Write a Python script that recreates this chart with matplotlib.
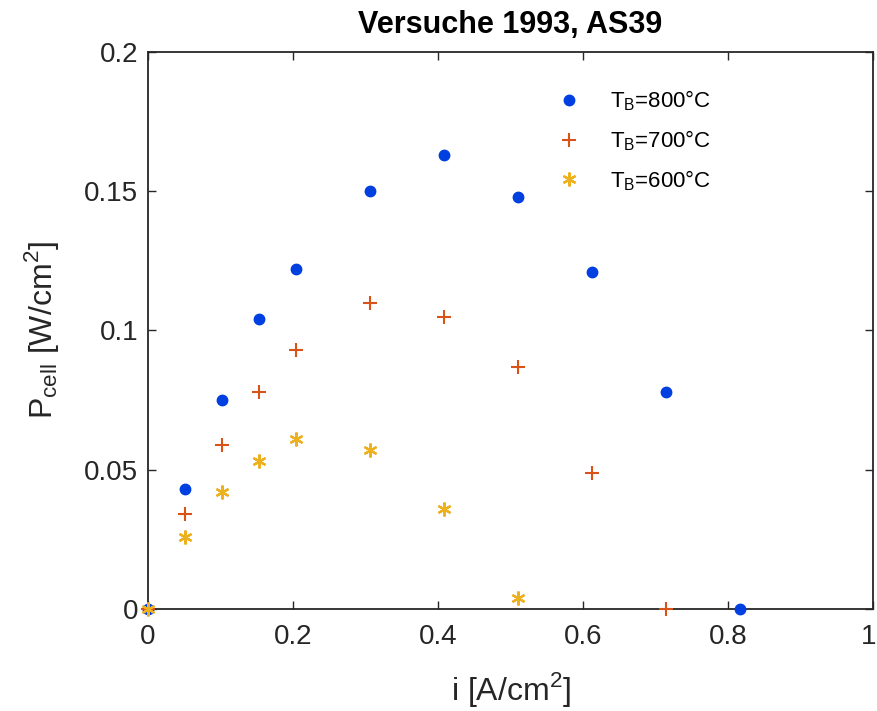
import matplotlib
matplotlib.use("Agg")
import matplotlib.pyplot as plt
from matplotlib.transforms import ScaledTranslation

i_800 = [0.0, 0.051, 0.102, 0.153, 0.204, 0.306, 0.408, 0.510, 0.612, 0.714, 0.816]
p_800 = [0.0, 0.043, 0.075, 0.104, 0.122, 0.150, 0.163, 0.148, 0.121, 0.078, 0.0]
i_700 = [0.0, 0.051, 0.102, 0.153, 0.204, 0.306, 0.408, 0.510, 0.612, 0.714]
p_700 = [0.0, 0.034, 0.059, 0.078, 0.093, 0.110, 0.105, 0.087, 0.049, 0.0]
i_600 = [0.0, 0.051, 0.102, 0.153, 0.204, 0.306, 0.408, 0.510]
p_600 = [0.0, 0.026, 0.042, 0.053, 0.061, 0.057, 0.036, 0.004]

labels = ['T$_\\mathregular{B}$=800°C', 'T$_\\mathregular{B}$=700°C', 'T$_\\mathregular{B}$=600°C']
xticks = [0, 0.2, 0.4, 0.6, 0.8, 1]
yticks = [0, 0.05, 0.1, 0.15, 0.2]
xticklabels = ['0', '0.2', '0.4', '0.6', '0.8', '1']
yticklabels = ['0', '0.05', '0.1', '0.15', '0.2']

plt.rcParams['font.family'] = ['Liberation Sans', 'DejaVu Sans']
plt.rcParams['mathtext.fontset'] = 'custom'
plt.rcParams['mathtext.rm'] = 'Liberation Sans'

fig = plt.figure(figsize=(8.77, 7.11), dpi=100)
ax = fig.add_axes([0.1688, 0.1435, 0.8267, 0.7834])

ax.plot(i_800, p_800, 'o', color='#0040e0', markersize=7.5, linestyle='none',
        label=labels[0], clip_on=False, zorder=3)
ax.plot(i_700, p_700, '+', color='#D95319', markersize=10, markeredgewidth=1.5, linestyle='none',
        label=labels[1], clip_on=False, zorder=3)
ax.plot(i_600, p_600, marker=(6, 2, 0), color='#EDB120', markersize=10, markeredgewidth=1.6,
        linestyle='none', label=labels[2], clip_on=False, zorder=3)

ax.set_xlim(0, 1)
ax.set_ylim(0, 0.2)
ax.set_xticks(xticks)
ax.set_xticklabels(xticklabels)
ax.set_yticks(yticks)
ax.set_yticklabels(yticklabels)
ax.tick_params(direction='in', top=True, right=True, length=6, width=1, labelsize=20,
               colors='#262626')
ax.tick_params(axis='x', pad=11)
ax.tick_params(axis='y', pad=7)
for s in ax.spines.values():
    s.set_linewidth(1.3)
    s.set_color('#262626')

# nudge the last x tick label slightly so it stays inside the figure
last = ax.get_xticklabels()[-1]
last.set_transform(last.get_transform() + ScaledTranslation(-4 / 100, 0, fig.dpi_scale_trans))

ax.set_xlabel('i [A/cm$^\\mathregular{2}$]', fontsize=23, color='#262626', labelpad=14)
ax.set_ylabel('P$_\\mathregular{cell}$ [W/cm$^\\mathregular{2}$]', fontsize=23, color='#262626', labelpad=17)
ax.set_title('Versuche 1993, AS39', fontsize=22, fontweight='bold', pad=14)

leg = ax.legend(loc='upper left', bbox_to_anchor=(0.522, 0.97), frameon=False, fontsize=16,
                handletextpad=0.85, labelspacing=0.68, handlelength=2.0)

fig.savefig('out.png', dpi=100)
